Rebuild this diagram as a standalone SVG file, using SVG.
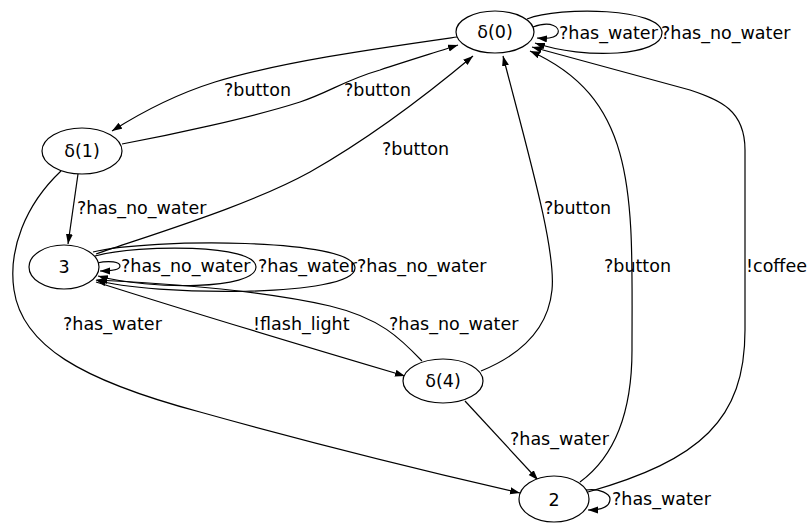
<svg xmlns="http://www.w3.org/2000/svg" width="811" height="525" viewBox="0 0 811 525">
  <style>
    .node ellipse { fill: #fff; stroke: #000; stroke-width: 1.2; }
    .edge { fill: none; stroke: #000; stroke-width: 1.2; marker-end: url(#arrow); }
    text { font-family: "DejaVu Sans", sans-serif; font-size: 17.5px; fill: #000; }
    .nl { text-anchor: middle; }
  </style>
  <defs>
    <marker id="arrow" markerUnits="userSpaceOnUse" markerWidth="11" markerHeight="8" refX="10" refY="3.5" orient="auto">
      <path d="M0,0 L10,3.5 L0,7 z" fill="#000"/>
    </marker>
  </defs>
  <rect width="811" height="525" fill="#fff"/>

  <g id="edges">
    <!-- δ(0) -> δ(1) ?button -->
    <path class="edge" d="M457,37 C380,48 280,62 215,82 C180,93 145,110 112,131"/>
    <text x="224" y="96">?button</text>
    <!-- δ(1) -> δ(0) ?button -->
    <path class="edge" d="M122,144 C170,135 250,118 300,102 C330,92 345,80 380,70 C410,60 440,51 458,45"/>
    <text x="344" y="96">?button</text>
    <!-- δ(0) self loops -->
    <path class="edge" d="M533,27 C552,20 560,28 558,33 C556,38 548,39 537,38"/>
    <text x="559" y="39">?has_water</text>
    <path class="edge" d="M527,19 C560,6 662,8 662,33 C662,56 585,60 535,43"/>
    <text x="661" y="39">?has_no_water</text>
    <!-- δ(1) -> 3 ?has_no_water -->
    <path class="edge" d="M78,174 L68,244"/>
    <text x="77" y="214">?has_no_water</text>
    <!-- δ(1) -> 2 ?has_water -->
    <path class="edge" d="M61,171 C25,205 8,250 14,290 C22,345 80,380 200,412 C300,440 420,470 520,493"/>
    <text x="63" y="330">?has_water</text>
    <!-- 3 -> δ(0) ?button -->
    <path class="edge" d="M96,254 C160,232 250,205 310,172 C370,138 430,92 473,56"/>
    <text x="382" y="155">?button</text>
    <!-- 3 self loops -->
    <path class="edge" d="M97,263 C110,260 120,262 120,266 C120,270 112,271 100,271"/>
    <text x="121" y="272">?has_no_water</text>
    <path class="edge" d="M95,256 C140,244 256,244 256,267 C256,290 150,290 98,276"/>
    <text x="258" y="272">?has_water</text>
    <path class="edge" d="M93,252 C150,238 355,238 355,268 C355,298 150,296 96,280"/>
    <text x="357" y="272">?has_no_water</text>
    <!-- δ(4) -> 3 ?has_no_water -->
    <path class="edge" d="M422,361 C400,338 380,318 330,306 C260,290 160,283 97,280"/>
    <text x="389" y="330">?has_no_water</text>
    <!-- 3 -> δ(4) !flash_light -->
    <path class="edge" d="M96,282 C200,315 300,345 405,376"/>
    <text x="253" y="330">!flash_light</text>
    <!-- δ(4) -> δ(0) ?button -->
    <path class="edge" d="M481,371 C520,355 548,330 552,290 C556,250 530,160 503,56"/>
    <text x="544" y="214">?button</text>
    <!-- δ(4) -> 2 ?has_water -->
    <path class="edge" d="M465,401 L538,480"/>
    <text x="510" y="445">?has_water</text>
    <!-- 2 -> δ(0) ?button -->
    <path class="edge" d="M580,482 C610,460 632,420 632,350 C632,200 640,100 530,51"/>
    <text x="604" y="272">?button</text>
    <!-- 2 -> δ(0) !coffee -->
    <path class="edge" d="M588,492 C700,460 745,420 745,330 L745,150 C745,110 720,100 690,90 L532,47"/>
    <text x="746" y="272">!coffee</text>
    <!-- 2 self loop -->
    <path class="edge" d="M586,490 C600,488 610,494 610,499 C610,506 602,510 588,510"/>
    <text x="612" y="505">?has_water</text>
  </g>

  <g id="n0" class="node">
    <ellipse cx="495" cy="32" rx="39" ry="21"/>
    <text class="nl" x="495" y="38">δ(0)</text>
  </g>
  <g id="n1" class="node">
    <ellipse cx="82" cy="151" rx="40" ry="23"/>
    <text class="nl" x="82" y="157">δ(1)</text>
  </g>
  <g id="n3" class="node">
    <ellipse cx="64" cy="267" rx="35" ry="22"/>
    <text class="nl" x="64" y="273">3</text>
  </g>
  <g id="n4" class="node">
    <ellipse cx="443" cy="381" rx="40" ry="22"/>
    <text class="nl" x="443" y="387">δ(4)</text>
  </g>
  <g id="n2" class="node">
    <ellipse cx="554" cy="499" rx="35" ry="23"/>
    <text class="nl" x="554" y="506">2</text>
  </g>
</svg>
